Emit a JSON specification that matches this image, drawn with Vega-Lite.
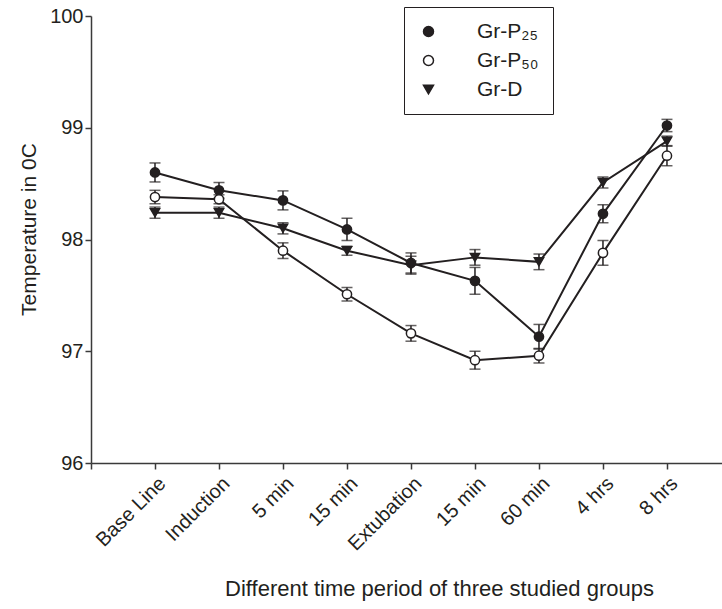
{
  "$schema": "https://vega.github.io/schema/vega-lite/v6.json",
  "width": 631,
  "height": 447,
  "autosize": "none",
  "padding": {"left": 91, "top": 16, "right": 0, "bottom": 146},
  "background": "white",
  "config": {
    "view": {"stroke": null},
    "font": "Liberation Sans",
    "axis": {
      "domainColor": "#3a3a3a", "domainWidth": 1.5, "tickColor": "#3a3a3a", "tickWidth": 1.5,
      "tickSize": 6, "labelFont": "Liberation Sans", "labelFontSize": 20, "labelColor": "#231f20",
      "titleFont": "Liberation Sans", "titleFontSize": 21, "titleFontWeight": "normal", "titleColor": "#231f20", "grid": false
    },
    "legend": {"symbolStrokeWidth": 1.5}
  },
  "data": {"values": [
    {"t": 1, "g": "Gr-P₂₅", "m": 98.60, "e": 0.085},
    {"t": 2, "g": "Gr-P₂₅", "m": 98.44, "e": 0.07},
    {"t": 3, "g": "Gr-P₂₅", "m": 98.35, "e": 0.085},
    {"t": 4, "g": "Gr-P₂₅", "m": 98.09, "e": 0.10},
    {"t": 5, "g": "Gr-P₂₅", "m": 97.79, "e": 0.09},
    {"t": 6, "g": "Gr-P₂₅", "m": 97.63, "e": 0.12},
    {"t": 7, "g": "Gr-P₂₅", "m": 97.13, "e": 0.11},
    {"t": 8, "g": "Gr-P₂₅", "m": 98.23, "e": 0.08},
    {"t": 9, "g": "Gr-P₂₅", "m": 99.02, "e": 0.055},
    {"t": 1, "g": "Gr-P₅₀", "m": 98.38, "e": 0.06},
    {"t": 2, "g": "Gr-P₅₀", "m": 98.36, "e": 0.04},
    {"t": 3, "g": "Gr-P₅₀", "m": 97.90, "e": 0.07},
    {"t": 4, "g": "Gr-P₅₀", "m": 97.51, "e": 0.06},
    {"t": 5, "g": "Gr-P₅₀", "m": 97.16, "e": 0.07},
    {"t": 6, "g": "Gr-P₅₀", "m": 96.92, "e": 0.08},
    {"t": 7, "g": "Gr-P₅₀", "m": 96.96, "e": 0.065},
    {"t": 8, "g": "Gr-P₅₀", "m": 97.88, "e": 0.11},
    {"t": 9, "g": "Gr-P₅₀", "m": 98.75, "e": 0.09},
    {"t": 1, "g": "Gr-D", "m": 98.24, "e": 0.05},
    {"t": 2, "g": "Gr-D", "m": 98.24, "e": 0.05},
    {"t": 3, "g": "Gr-D", "m": 98.10, "e": 0.05},
    {"t": 4, "g": "Gr-D", "m": 97.90, "e": 0.04},
    {"t": 5, "g": "Gr-D", "m": 97.77, "e": 0.08},
    {"t": 6, "g": "Gr-D", "m": 97.84, "e": 0.07},
    {"t": 7, "g": "Gr-D", "m": 97.80, "e": 0.07},
    {"t": 8, "g": "Gr-D", "m": 98.51, "e": 0.05},
    {"t": 9, "g": "Gr-D", "m": 98.88, "e": 0.045}
  ]},
  "encoding": {
    "x": {
      "field": "t", "type": "quantitative",
      "scale": {"domain": [0, 9.86], "nice": false, "zero": false},
      "axis": {
        "values": [0, 1, 2, 3, 4, 5, 6, 7, 8, 9],
        "labelExpr": "['', 'Base Line', 'Induction', '5 min', '15 min', 'Extubation', '15 min', '60 min', '4 hrs', '8 hrs'][datum.value]",
        "labelAngle": -45, "labelAlign": "right", "labelBaseline": "top", "labelOverlap": false, "labelPadding": 4,
        "title": "Different time period of three studied groups", "titleFontSize": 22,
        "titleX": 348, "titleY": 125, "titleBaseline": "middle", "titleAlign": "center"
      }
    },
    "y": {
      "field": "m", "type": "quantitative",
      "scale": {"domain": [96, 100], "nice": false, "zero": false},
      "axis": {"values": [96, 97, 98, 99, 100], "title": "Temperature in 0C",
        "titleX": -62, "titleY": 213, "titleBaseline": "middle", "titleAlign": "center", "titleAngle": -90}
    }
  },
  "layer": [
    {
      "mark": {"type": "line", "color": "#231f20", "strokeWidth": 2},
      "encoding": {"detail": {"field": "g"}}
    },
    {
      "mark": {"type": "errorbar", "ticks": {"size": 11, "thickness": 1.5, "color": "#231f20"}, "rule": {"strokeWidth": 1.5, "color": "#231f20"}},
      "encoding": {"yError": {"field": "e"}, "detail": {"field": "g"}}
    },
    {
      "mark": {"type": "point", "size": 85, "strokeWidth": 1.5, "opacity": 1},
      "encoding": {
        "shape": {
          "field": "g", "type": "nominal",
          "scale": {"domain": ["Gr-P₂₅", "Gr-P₅₀", "Gr-D"], "range": ["circle", "circle", "triangle-down"]},
          "legend": {
            "title": null, "orient": "none", "legendX": 313, "legendY": -9,
            "padding": 14, "rowPadding": 7, "symbolSize": 100, "labelOffset": 38,
            "labelFont": "Liberation Sans", "labelFontSize": 21, "labelColor": "#231f20",
            "strokeColor": "#231f20"
          }
        },
        "fill": {
          "field": "g", "type": "nominal",
          "scale": {"domain": ["Gr-P₂₅", "Gr-P₅₀", "Gr-D"], "range": ["#231f20", "white", "#231f20"]},
          "legend": {
            "title": null, "orient": "none", "legendX": 313, "legendY": -9,
            "padding": 14, "rowPadding": 7, "symbolSize": 100, "labelOffset": 38,
            "labelFont": "Liberation Sans", "labelFontSize": 21, "labelColor": "#231f20",
            "strokeColor": "#231f20"
          }
        },
        "stroke": {
          "field": "g", "type": "nominal",
          "scale": {"domain": ["Gr-P₂₅", "Gr-P₅₀", "Gr-D"], "range": ["#231f20", "#231f20", "#231f20"]},
          "legend": {
            "title": null, "orient": "none", "legendX": 313, "legendY": -9,
            "padding": 14, "rowPadding": 7, "symbolSize": 100, "labelOffset": 38,
            "labelFont": "Liberation Sans", "labelFontSize": 21, "labelColor": "#231f20",
            "strokeColor": "#231f20"
          }
        }
      }
    }
  ]
}
